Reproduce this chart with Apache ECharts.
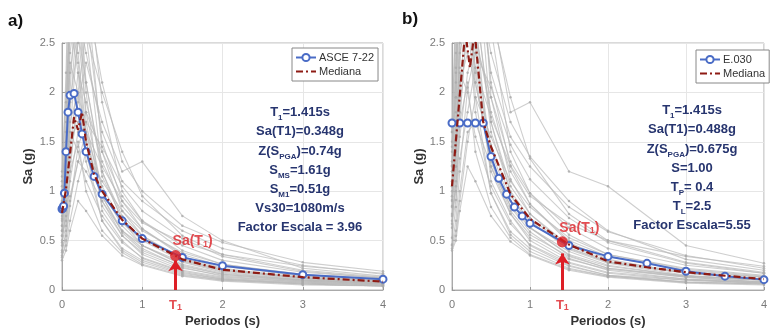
<!DOCTYPE html>
<html><head><meta charset="utf-8">
<script src="https://cdn.jsdelivr.net/npm/echarts/dist/echarts.min.js"></script>
<style>html,body{margin:0;padding:0;background:#fff}#c{width:770px;height:334px}</style>
</head><body><div id="c"></div>
<script>
// ---------- DATA ----------
const xTicks = [0, 1, 2, 3, 4];
const yTicks = [0, 0.5, 1, 1.5, 2, 2.5];

const grayPeriods = [0, 0.05, 0.1, 0.2, 0.3, 0.5, 0.75, 1, 1.5, 2, 3, 4];
const grayRecordsA = [
  [0.80, 1.30, 2.60, 3.20, 2.10, 1.20, 0.75, 0.55, 0.30, 0.20, 0.12, 0.08],
  [0.55, 0.70, 1.10, 1.60, 1.80, 1.40, 0.95, 0.70, 0.45, 0.30, 0.18, 0.12],
  [1.00, 1.60, 2.90, 2.40, 1.60, 0.85, 0.55, 0.38, 0.22, 0.15, 0.09, 0.06],
  [0.40, 0.55, 0.90, 1.30, 1.20, 0.90, 0.60, 0.45, 0.28, 0.18, 0.10, 0.07],
  [0.90, 1.50, 2.20, 2.80, 2.40, 1.60, 1.10, 0.90, 0.60, 0.42, 0.25, 0.16],
  [0.70, 1.00, 1.70, 2.00, 1.30, 0.70, 0.40, 0.28, 0.16, 0.10, 0.06, 0.04],
  [1.20, 2.00, 3.50, 2.60, 1.80, 1.00, 0.65, 0.45, 0.25, 0.16, 0.10, 0.07],
  [0.35, 0.45, 0.70, 1.10, 1.40, 1.10, 0.80, 0.60, 0.38, 0.26, 0.16, 0.11],
  [0.65, 1.10, 1.90, 2.50, 3.00, 2.10, 1.30, 1.00, 0.65, 0.48, 0.28, 0.19],
  [0.85, 1.20, 1.50, 1.70, 1.50, 0.95, 0.58, 0.40, 0.24, 0.16, 0.09, 0.06],
  [0.50, 0.80, 1.40, 2.20, 1.90, 1.30, 0.85, 0.62, 0.36, 0.24, 0.14, 0.09],
  [0.95, 1.70, 3.00, 3.80, 2.60, 1.20, 0.70, 0.45, 0.26, 0.17, 0.10, 0.07],
  [0.30, 0.40, 0.60, 0.90, 0.80, 0.55, 0.35, 0.25, 0.14, 0.09, 0.05, 0.04],
  [0.75, 1.00, 1.30, 1.90, 2.30, 1.70, 1.20, 1.30, 0.75, 0.50, 0.22, 0.14],
  [0.60, 0.90, 1.60, 1.40, 1.10, 0.75, 0.48, 0.33, 0.19, 0.12, 0.07, 0.05],
  [1.10, 1.40, 2.40, 3.00, 2.00, 0.80, 0.50, 0.32, 0.18, 0.11, 0.06, 0.04],
  [0.45, 0.90, 2.00, 3.40, 2.80, 1.50, 0.90, 0.62, 0.34, 0.22, 0.12, 0.08],
  [0.85, 1.40, 2.70, 2.20, 1.40, 0.70, 0.42, 0.30, 0.17, 0.11, 0.07, 0.05],
  [0.60, 1.00, 1.80, 2.90, 3.30, 1.90, 1.00, 0.70, 0.40, 0.26, 0.15, 0.10],
  [1.05, 2.20, 3.80, 3.00, 1.70, 0.90, 0.55, 0.36, 0.20, 0.13, 0.08, 0.05],
  [0.38, 0.60, 1.20, 2.00, 2.60, 2.00, 1.40, 0.95, 0.55, 0.36, 0.20, 0.13],
  [0.72, 1.20, 2.30, 2.00, 1.60, 1.05, 0.68, 0.50, 0.29, 0.19, 0.11, 0.07],
  [0.55, 0.75, 1.20, 1.50, 1.00, 0.60, 0.38, 0.26, 0.15, 0.10, 0.06, 0.04],
  [0.90, 1.60, 3.20, 4.00, 3.10, 1.40, 0.80, 0.55, 0.32, 0.21, 0.13, 0.09],
  [0.48, 0.65, 0.95, 1.30, 1.60, 1.25, 0.90, 0.68, 0.48, 0.36, 0.24, 0.17],
  [1.15, 1.90, 2.80, 2.30, 1.50, 0.95, 0.60, 0.42, 0.23, 0.14, 0.08, 0.06],
  [0.65, 1.05, 1.60, 2.60, 2.10, 1.15, 0.72, 0.52, 0.31, 0.20, 0.12, 0.08],
  [0.33, 0.50, 0.85, 1.45, 1.70, 1.45, 1.05, 0.80, 0.52, 0.34, 0.19, 0.12]
];
const grayRecordsB = [
  [1.10, 1.80, 3.60, 4.50, 2.90, 1.70, 1.05, 0.77, 0.42, 0.28, 0.17, 0.11],
  [0.75, 1.00, 1.55, 2.20, 2.50, 1.95, 1.30, 0.98, 0.63, 0.42, 0.25, 0.17],
  [1.40, 2.20, 4.00, 3.30, 2.20, 1.20, 0.77, 0.53, 0.31, 0.21, 0.13, 0.08],
  [0.45, 0.60, 1.00, 1.60, 1.70, 1.25, 0.85, 0.63, 0.39, 0.25, 0.14, 0.10],
  [1.25, 2.10, 3.10, 3.90, 3.30, 2.20, 1.55, 1.25, 0.84, 0.59, 0.35, 0.22],
  [0.95, 1.40, 2.40, 2.80, 1.80, 0.98, 0.56, 0.39, 0.22, 0.14, 0.08, 0.06],
  [1.60, 2.80, 4.80, 3.60, 2.50, 1.40, 0.90, 0.63, 0.35, 0.22, 0.14, 0.10],
  [0.42, 0.55, 0.90, 1.50, 1.95, 1.55, 1.10, 0.84, 0.53, 0.36, 0.22, 0.15],
  [0.90, 1.50, 2.60, 3.50, 4.20, 2.90, 1.80, 1.90, 1.20, 1.05, 0.45, 0.27],
  [1.20, 1.70, 2.10, 2.40, 2.10, 1.30, 0.80, 0.56, 0.34, 0.22, 0.13, 0.08],
  [0.70, 1.10, 1.95, 3.10, 2.60, 1.80, 1.20, 0.87, 0.50, 0.34, 0.20, 0.13],
  [1.30, 2.40, 4.20, 5.30, 3.60, 1.70, 0.98, 0.63, 0.36, 0.24, 0.14, 0.10],
  [0.40, 0.50, 0.80, 1.25, 1.10, 0.75, 0.49, 0.35, 0.20, 0.13, 0.07, 0.05],
  [1.05, 1.40, 1.80, 2.70, 3.20, 2.40, 1.70, 1.35, 0.90, 0.60, 0.31, 0.20],
  [0.85, 1.25, 2.20, 2.00, 1.55, 1.05, 0.67, 0.46, 0.27, 0.17, 0.10, 0.07],
  [1.50, 1.95, 3.40, 4.20, 2.80, 1.10, 0.70, 0.45, 0.25, 0.15, 0.08, 0.06],
  [0.63, 1.25, 2.80, 4.70, 3.90, 2.10, 1.25, 0.87, 0.48, 0.31, 0.17, 0.11],
  [1.20, 1.95, 3.80, 3.10, 1.95, 0.98, 0.59, 0.42, 0.24, 0.15, 0.10, 0.07],
  [0.84, 1.40, 2.50, 4.00, 4.60, 2.65, 1.40, 0.98, 0.56, 0.36, 0.21, 0.14],
  [1.45, 3.10, 5.30, 4.20, 2.40, 1.25, 0.77, 0.50, 0.28, 0.18, 0.11, 0.07],
  [0.53, 0.84, 1.70, 2.80, 3.60, 2.80, 1.95, 1.33, 0.77, 0.50, 0.28, 0.18],
  [1.00, 1.70, 3.20, 2.80, 2.25, 1.47, 0.95, 0.70, 0.41, 0.27, 0.15, 0.10],
  [0.77, 1.05, 1.70, 2.10, 1.40, 0.84, 0.53, 0.36, 0.21, 0.14, 0.08, 0.06],
  [1.26, 2.25, 4.50, 5.60, 4.30, 1.95, 1.12, 0.77, 0.45, 0.29, 0.18, 0.13],
  [0.67, 0.91, 1.33, 1.80, 2.25, 1.75, 1.26, 0.95, 0.67, 0.50, 0.34, 0.24],
  [1.60, 2.65, 3.90, 3.20, 2.10, 1.33, 0.84, 0.59, 0.32, 0.20, 0.11, 0.08],
  [0.91, 1.47, 2.25, 3.65, 2.95, 1.60, 1.00, 0.73, 0.43, 0.28, 0.17, 0.11],
  [0.46, 0.70, 1.20, 2.05, 2.40, 2.05, 1.47, 1.12, 0.73, 0.48, 0.27, 0.17]
];

const asceT  = [0, 0.01, 0.02, 0.03, 0.05, 0.075, 0.1, 0.15, 0.2, 0.25, 0.3, 0.4, 0.5, 0.75, 1, 1.5, 2, 3, 4];
const asceSa = [0.82, 0.83, 0.85, 0.98, 1.40, 1.80, 1.97, 1.99, 1.80, 1.58, 1.40, 1.15, 0.97, 0.70, 0.52, 0.33, 0.245, 0.155, 0.11];

const medianAT  = [0, 0.05, 0.1, 0.15, 0.2, 0.25, 0.3, 0.4, 0.5, 0.75, 1, 1.5, 2, 3, 4];
const medianASa = [0.78, 1.02, 1.38, 1.75, 1.62, 1.80, 1.50, 1.17, 1.00, 0.71, 0.52, 0.31, 0.205, 0.13, 0.085];

const e030T  = [0, 0.1, 0.2, 0.3, 0.4, 0.5, 0.6, 0.7, 0.8, 0.9, 1.0, 1.5, 2, 2.5, 3, 3.5, 4];
const e030Sa = [1.69, 1.69, 1.69, 1.69, 1.69, 1.35, 1.13, 0.97, 0.84, 0.75, 0.675, 0.45, 0.34, 0.27, 0.19, 0.14, 0.105];

const medianBT  = [0, 0.17, 0.23, 0.29, 0.4, 0.5, 0.75, 1, 1.5, 2, 2.5, 3, 4];
const medianBSa = [1.05, 2.62, 2.25, 2.62, 1.70, 1.45, 0.97, 0.72, 0.46, 0.29, 0.23, 0.18, 0.11];

const T1 = 1.415;
const saT1A = 0.348, saT1B = 0.488;
const arrowTipA = 0.30, arrowTipB = 0.37;

const infoA = ['T{s|1}=1.415s', 'Sa(T1)=0.348g', 'Z(S{s|PGA})=0.74g', 'S{s|MS}=1.61g', 'S{s|M1}=0.51g', 'Vs30=1080m/s', 'Factor Escala = 3.96'];
const infoB = ['T{s|1}=1.415s', 'Sa(T1)=0.488g', 'Z(S{s|PGA})=0.675g', 'S=1.00', 'T{s|P}= 0.4', 'T{s|L}=2.5', 'Factor Escala=5.55'];

// ---------- CHART ----------
const chart = echarts.init(document.getElementById('c'), null, {renderer: 'canvas'});
const pairs = (T, S) => T.map((t, i) => [t, S[i]]);
const RED = '#dd1f26', BLUE = '#4a6cc6', MED = '#8e1b14', NAVY = '#27356f';
const FONT = 'Liberation Sans';

function grayS(records, g) {
  return records.map((r, k) => ({
    type: 'line', name: 'rec' + g + '_' + k, xAxisIndex: g, yAxisIndex: g,
    data: pairs(grayPeriods, r), symbol: 'circle', symbolSize: 2.5, showSymbol: true, showAllSymbol: true,
    lineStyle: {color: 'rgba(185,185,185,0.7)', width: 1.1}, itemStyle: {color: 'rgba(170,170,170,0.8)'},
    silent: true, z: 1, animation: false
  }));
}
function mainS(name, T, S, g) {
  return {type: 'line', name, xAxisIndex: g, yAxisIndex: g, data: pairs(T, S),
    symbol: 'emptyCircle', symbolSize: 7, showAllSymbol: true,
    lineStyle: {color: BLUE, width: 2}, itemStyle: {color: BLUE, borderWidth: 1.5},
    z: 3, animation: false};
}
function medS(T, S, g) {
  return {type: 'line', name: 'Mediana', xAxisIndex: g, yAxisIndex: g, data: pairs(T, S),
    symbol: 'none', lineStyle: {color: MED, width: 2.2, type: [7, 3, 2, 3]}, itemStyle: {color: MED},
    z: 4, animation: false};
}
function t1S(sa, tip, g) {
  return [{
    type: 'scatter', name: 'pt' + g, xAxisIndex: g, yAxisIndex: g, data: [[T1, sa]], symbolSize: 11,
    itemStyle: {color: RED}, z: 6, animation: false,
    label: {show: true, position: 'top', distance: 1, offset: [17, 0], formatter: 'Sa(T{s|1})',
      color: RED, fontWeight: 'bold', fontSize: 14, fontFamily: FONT, lineHeight: 15,
      rich: {s: {fontSize: 9, fontWeight: 'bold', fontFamily: FONT, color: RED, verticalAlign: 'bottom', lineHeight: 13}}},
    markLine: {silent: true, symbol: ['none', 'arrow'], symbolSize: 11, animation: false,
      lineStyle: {color: RED, width: 3, type: 'solid'}, label: {show: false},
      data: [[{coord: [T1, 0]}, {coord: [T1, tip]}]]}
  }, {
    type: 'scatter', name: 'lbl' + g, xAxisIndex: g, yAxisIndex: g, data: [[T1, 0]], symbolSize: 0,
    silent: true, z: 6, animation: false, clip: false,
    label: {show: true, position: 'bottom', distance: 8, formatter: 'T{s|1}', color: RED,
      fontWeight: 'bold', fontSize: 13, fontFamily: FONT, lineHeight: 14,
      rich: {s: {fontSize: 9, fontWeight: 'bold', fontFamily: FONT, color: RED, verticalAlign: 'bottom', lineHeight: 12}}}
  }];
}
function xAx(g) {
  return {type: 'value', gridIndex: g, min: xTicks[0], max: xTicks[xTicks.length - 1], interval: 1,
    name: 'Periodos (s)', nameLocation: 'middle', nameGap: 25,
    nameTextStyle: {fontSize: 13, fontWeight: 'bold', color: '#333', fontFamily: FONT},
    axisLine: {lineStyle: {color: '#aaa'}}, axisTick: {inside: true, length: 3, lineStyle: {color: '#999'}},
    axisLabel: {color: '#7a7a7a', fontSize: 11, margin: 9, fontFamily: FONT},
    splitLine: {show: true, lineStyle: {color: '#e6e6e6'}}};
}
function yAx(g, gap) {
  return {type: 'value', gridIndex: g, min: yTicks[0], max: yTicks[yTicks.length - 1], interval: 0.5,
    name: 'Sa (g)', nameLocation: 'middle', nameGap: gap,
    nameTextStyle: {fontSize: 13, fontWeight: 'bold', color: '#333', fontFamily: FONT},
    axisLine: {show: true, lineStyle: {color: '#aaa'}}, axisTick: {show: true, inside: true, length: 3, lineStyle: {color: '#999'}},
    axisLabel: {color: '#7a7a7a', fontSize: 11, margin: 7, fontFamily: FONT},
    splitLine: {show: true, lineStyle: {color: '#e6e6e6'}}};
}
function info(lines, x, y) {
  return {type: 'text', x, y, z: 10, silent: true,
    style: {text: lines.join('\n'), align: 'center', verticalAlign: 'top', fill: NAVY,
      font: 'bold 13px "Liberation Sans Narrow", "Liberation Sans", sans-serif', lineHeight: 19.2,
      rich: {s: {fontSize: 8, fontWeight: 'bold', fill: NAVY, verticalAlign: 'bottom', lineHeight: 16,
        fontFamily: '"Liberation Sans Narrow", "Liberation Sans", sans-serif'}}}};
}
const legendBase = {orient: 'vertical', itemWidth: 20, itemHeight: 9, itemGap: 3, padding: [4, 4, 4, 3],
  borderColor: '#888', borderWidth: 1, backgroundColor: '#fff', selectedMode: false,
  textStyle: {fontSize: 11, color: '#333', fontFamily: FONT, padding: [0, 0, 0, -2]}};

chart.setOption({
  animation: false,
  backgroundColor: '#fff',
  grid: [
    {left: 62, right: 387, top: 43, bottom: 44, show: true, borderColor: '#b5b5b5', borderWidth: 1, backgroundColor: '#fff'},
    {left: 452, right: 0, top: 43, bottom: 44, show: true, borderColor: '#b5b5b5', borderWidth: 1, backgroundColor: '#fff'}
  ],
  xAxis: [xAx(0), xAx(1)],
  yAxis: [yAx(0, 27), yAx(1, 23)],
  legend: [
    Object.assign({}, legendBase, {data: ['ASCE 7-22', {name: 'Mediana', itemStyle: {opacity: 0}}], left: 292, top: 48}),
    Object.assign({}, legendBase, {data: ['E.030', {name: 'Mediana', itemStyle: {opacity: 0}}], left: 696, top: 50})
  ],
  graphic: [
    {type: 'text', x: 8, y: 13, silent: true, style: {text: 'a)', font: 'bold 17px "Liberation Sans"', fill: '#111'}},
    {type: 'text', x: 402, y: 11, silent: true, style: {text: 'b)', font: 'bold 17px "Liberation Sans"', fill: '#111'}},
    info(infoA, 300, 103),
    info(infoB, 692, 101)
  ],
  series: [].concat(
    grayS(grayRecordsA, 0), grayS(grayRecordsB, 1),
    [mainS('ASCE 7-22', asceT, asceSa, 0), medS(medianAT, medianASa, 0)],
    [mainS('E.030', e030T, e030Sa, 1), medS(medianBT, medianBSa, 1)],
    t1S(saT1A, arrowTipA, 0), t1S(saT1B, arrowTipB, 1)
  )
});
</script></body></html>
